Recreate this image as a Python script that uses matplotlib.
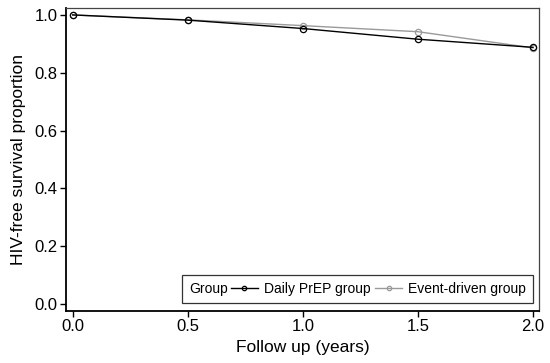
import matplotlib
matplotlib.use('Agg')
from matplotlib import pyplot as plt
from matplotlib.offsetbox import HPacker

plt.rcParams['font.family'] = ['Liberation Sans', 'DejaVu Sans']

# follow-up time points (years)
years = [0.0, 0.5, 1.0, 1.5, 2.0]
daily = [1.0, 0.982, 0.953, 0.916, 0.888]
event = [1.0, 0.983, 0.963, 0.942, 0.886]

fig = plt.figure(figsize=(5.5, 3.63), dpi=100)
ax = fig.add_axes([0.12, 0.143, 0.86, 0.835])

ax.plot(years, event, color='#9a9a9a', lw=1.0, marker='o', ms=4.5,
        mfc='none', mec='#9a9a9a', mew=0.9, label='Event-driven group')
ax.plot(years, daily, color='black', lw=1.0, marker='o', ms=4.5,
        mfc='none', mec='black', mew=0.9, label='Daily PrEP group')

ax.set_xlim(-0.029, 2.026)
ax.set_ylim(-0.024, 1.024)
ax.set_xticks([0.0, 0.5, 1.0, 1.5, 2.0])
ax.set_yticks([0.0, 0.2, 0.4, 0.6, 0.8, 1.0])
ax.set_xticklabels(['0.0', '0.5', '1.0', '1.5', '2.0'])
ax.set_yticklabels(['0.0', '0.2', '0.4', '0.6', '0.8', '1.0'])
ax.tick_params(direction='out', length=4, width=1, labelsize=12, pad=2)
ax.set_xlabel('Follow up (years)', fontsize=12.5, labelpad=4)
ax.set_ylabel('HIV-free survival proportion', fontsize=12.5, labelpad=6)

for s in ['top', 'right']:
    ax.spines[s].set_color('#444444')
    ax.spines[s].set_linewidth(0.9)
for s in ['left', 'bottom']:
    ax.spines[s].set_color('black')
    ax.spines[s].set_linewidth(1.3)

h, l = ax.get_legend_handles_labels()
leg = ax.legend(h[::-1], l[::-1], ncol=2, title='Group', fontsize=10,
                title_fontsize=10, loc='lower right', borderaxespad=0,
                bbox_to_anchor=(0.987, 0.026), frameon=True, fancybox=False,
                edgecolor='black', handlelength=2.0, handletextpad=0.4,
                columnspacing=0.3, borderpad=0.5, markerscale=0.7)
leg.get_frame().set_linewidth(0.9)
# put the legend title on the left side of the entries
box = HPacker(pad=0.5 * 10, sep=2,
              children=[leg._legend_title_box, leg._legend_handle_box],
              align='center')
box.set_figure(fig)
box.axes = ax
box.set_offset(leg._findoffset)
leg._legend_box = box

fig.savefig('out.png', dpi=100)
